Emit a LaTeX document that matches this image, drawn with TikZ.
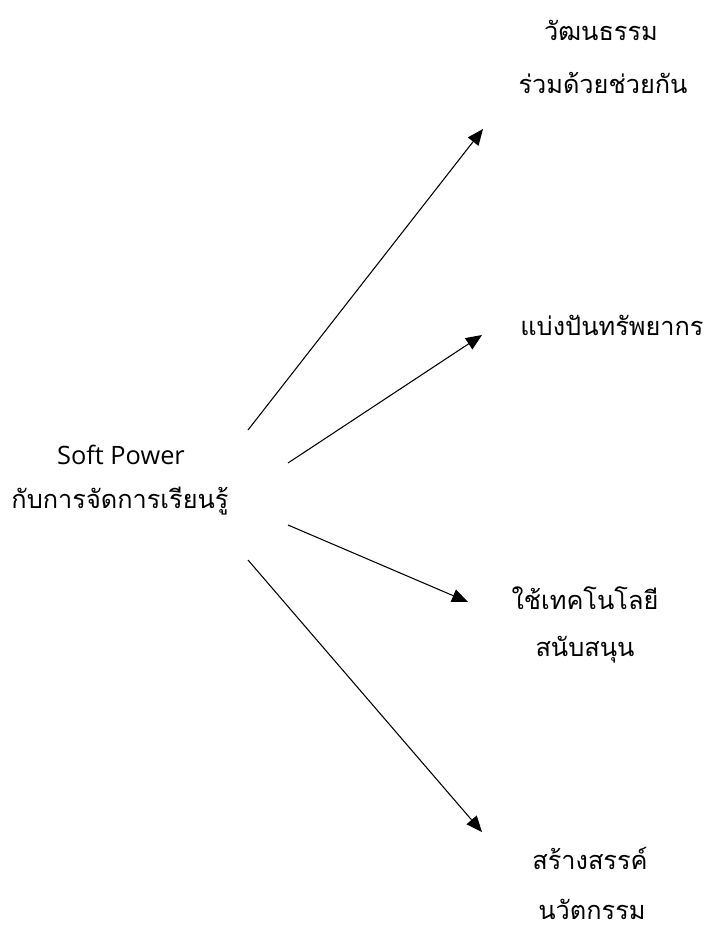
\documentclass[tikz,border=0pt]{standalone}
\usepackage{fontspec}
\setmainfont{Open Sans}
\newfontfamily\thaifont[Script=Thai]{Loma}
\usetikzlibrary{arrows.meta}
\tikzset{
  lbl/.style={font=\thaifont\fontsize{19pt}{23pt}\selectfont, inner sep=0pt, anchor=center},
  latin/.style={font=\fontsize{19pt}{23pt}\selectfont, inner sep=0pt, anchor=center},
  arr/.style={line width=0.8pt, -{Triangle[length=12pt,width=10pt]}}
}
\begin{document}
\begin{tikzpicture}[x=0.75pt,y=-0.75pt]
				\useasboundingbox (0,0) rectangle (714,933);
				\node[latin] (soft) at (121,455) {Soft Power};
				\node[lbl] (learn) at (120,501) {กับการจัดการเรียนรู้};
				\node[lbl] (cult) at (601,30) {วัฒนธรรม};
				\node[lbl] (coop) at (603,83) {ร่วมด้วยช่วยกัน};
				\node[lbl] (share) at (612,325) {แบ่งปันทรัพยากร};
				\node[lbl] (tech) at (585,598) {ใช้เทคโนโลยี};
				\node[lbl] (supp) at (585,650) {สนับสนุน};
				\node[lbl] (crea) at (590,858) {สร้างสรรค์};
				\node[lbl] (inno) at (592,909) {นวัตกรรม};
				\coordinate (S1) at (248,430);
				\coordinate (E1) at (483,129);
				\coordinate (S2) at (288,463);
				\coordinate (E2) at (482,335);
				\coordinate (S3) at (288,525);
				\coordinate (E3) at (468,602);
				\coordinate (S4) at (248,560);
				\coordinate (E4) at (482,832);
				\draw[arr] (S1) to (E1);
				\draw[arr] (S2) to (E2);
				\draw[arr] (S3) to (E3);
				\draw[arr] (S4) to (E4);
			\end{tikzpicture}
\end{document}
